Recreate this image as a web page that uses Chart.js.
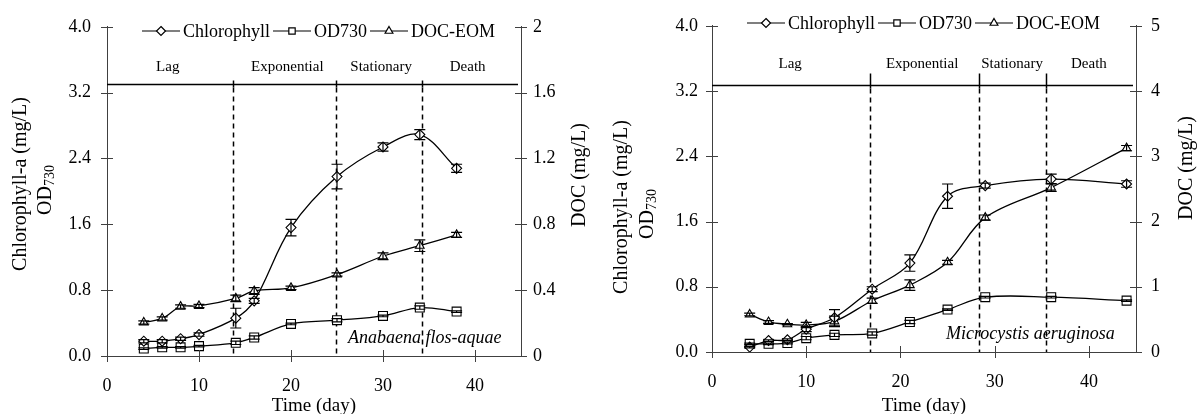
<!DOCTYPE html>
<html>
<head>
<meta charset="utf-8">
<script src="https://cdn.jsdelivr.net/npm/chart.js@4.4.0/dist/chart.umd.min.js"></script>
<style>
  html, body { margin: 0; padding: 0; background: #fff; }
  #wrap { position: relative; width: 1197px; height: 414px; overflow: hidden; }
  canvas { position: absolute; top: 0; }
  #chartAna { left: 0; }
  #chartMic { left: 600px; }
</style>
</head>
<body>
<div id="wrap">
  <canvas id="chartAna" width="600" height="414"></canvas>
  <canvas id="chartMic" width="597" height="414"></canvas>
</div>
<script>
// ---------- shared ----------
const seriesNames = ['Chlorophyll', 'OD730', 'DOC-EOM'];
const phaseNames = ['Lag', 'Exponential', 'Stationary', 'Death'];
const xTicks = [0, 10, 20, 30, 40];
const yTicks = [0, 0.8, 1.6, 2.4, 3.2, 4.0];
const yTickLabels = ['0.0', '0.8', '1.6', '2.4', '3.2', '4.0'];

// ---------- Anabaena flos-aquae (left) ----------
const anaDays = [4, 6, 8, 10, 14, 16, 20, 25, 30, 34, 38];
const anaChl = [0.18, 0.18, 0.21, 0.26, 0.46, 0.67, 1.56, 2.18, 2.54, 2.69, 2.28];
const anaChlErr = [0.02, 0.02, 0.02, 0.02, 0.12, 0.03, 0.10, 0.15, 0.05, 0.06, 0.05];
const anaOD = [0.09, 0.105, 0.105, 0.12, 0.16, 0.225, 0.39, 0.435, 0.487, 0.588, 0.54];
const anaODErr = [0.01, 0.01, 0.01, 0.01, 0.02, 0.02, 0.01, 0.02, 0.01, 0.02, 0.01];
const anaDOC = [0.204, 0.228, 0.30, 0.304, 0.35, 0.395, 0.414, 0.495, 0.606, 0.67, 0.736];
const anaDOCErr = [0.01, 0.01, 0.01, 0.01, 0.02, 0.02, 0.01, 0.01, 0.02, 0.035, 0.015];
const anaDocTicks = [0, 0.4, 0.8, 1.2, 1.6, 2];
const anaDocTickLabels = ['0', '0.4', '0.8', '1.2', '1.6', '2'];
const anaPhaseDays = [13.7, 24.9, 34.2];

// ---------- Microcystis aeruginosa (right) ----------
const micDays = [4, 6, 8, 10, 13, 17, 21, 25, 29, 36, 44];
const micChl = [0.06, 0.14, 0.15, 0.28, 0.42, 0.77, 1.09, 1.91, 2.04, 2.12, 2.06];
const micChlErr = [0.01, 0.01, 0.01, 0.03, 0.10, 0.03, 0.10, 0.15, 0.03, 0.06, 0.04];
const micOD = [0.10, 0.10, 0.11, 0.17, 0.21, 0.228, 0.368, 0.52, 0.672, 0.672, 0.63];
const micODErr = [0.01, 0.01, 0.01, 0.02, 0.02, 0.02, 0.02, 0.01, 0.01, 0.01, 0.01];
const micDOC = [0.576, 0.46, 0.425, 0.415, 0.47, 0.786, 1.025, 1.375, 2.06, 2.52, 3.125];
const micDOCErr = [0.02, 0.02, 0.01, 0.04, 0.08, 0.04, 0.08, 0.03, 0.04, 0.06, 0.04];
const micDocTicks = [0, 1, 2, 3, 4, 5];
const micDocTickLabels = ['0', '1', '2', '3', '4', '5'];
const micPhaseDays = [16.8, 28.3, 35.5];

const SERIF = "'Liberation Serif', 'Times New Roman', serif";
const AXIS_COLOR = '#404040';

function pts(days, vals) {
  return days.map((d, i) => ({ x: d, y: vals[i] }));
}

function drawMarker(ctx, style, x, y, r) {
  ctx.beginPath();
  if (style === 'rectRot') {
    ctx.moveTo(x, y - r); ctx.lineTo(x + r, y); ctx.lineTo(x, y + r); ctx.lineTo(x - r, y);
  } else if (style === 'rect') {
    const s = r * Math.SQRT1_2;
    ctx.rect(x - s, y - s, 2 * s, 2 * s);
  } else {
    const h = r * 1.5;
    ctx.moveTo(x, y - r); ctx.lineTo(x + h / Math.sqrt(3), y + r / 2); ctx.lineTo(x - h / Math.sqrt(3), y + r / 2);
  }
  ctx.closePath();
  ctx.fillStyle = '#fff';
  ctx.fill();
  ctx.stroke();
}

// error bars + phase lines + legend + labels
const decor = {
  id: 'decor',
  beforeDatasetsDraw(chart, args, o) {
    const { ctx, chartArea: a, scales: { x, y } } = chart;
    const lineY = Math.round(y.getPixelForValue(o.phaseLevel)) + 0.5;
    ctx.save();
    ctx.strokeStyle = '#000';
    ctx.lineWidth = 1.5;
    ctx.beginPath();
    ctx.moveTo(a.left, lineY);
    ctx.lineTo(a.right - 3, lineY);
    ctx.stroke();
    o.phaseDays.forEach(d => {
      const px = Math.round(x.getPixelForValue(d)) + 0.5;
      ctx.setLineDash([]);
      ctx.beginPath();
      ctx.moveTo(px, lineY - o.solidAbove);
      ctx.lineTo(px, lineY + 3);
      ctx.stroke();
      ctx.setLineDash([5, 4]);
      ctx.beginPath();
      ctx.moveTo(px, lineY + 3);
      ctx.lineTo(px, a.bottom);
      ctx.stroke();
    });
    ctx.restore();
  },
  afterDatasetsDraw(chart) {
    const { ctx } = chart;
    ctx.save();
    ctx.strokeStyle = '#000';
    ctx.lineWidth = 1.2;
    chart.data.datasets.forEach((ds, di) => {
      const meta = chart.getDatasetMeta(di);
      const sc = chart.scales[ds.yAxisID];
      meta.data.forEach((pt, i) => {
        const e = ds.errors[i];
        if (!e) return;
        const v = ds.data[i].y;
        const y0 = sc.getPixelForValue(v - e);
        const y1 = sc.getPixelForValue(v + e);
        ctx.beginPath();
        ctx.moveTo(pt.x, y0); ctx.lineTo(pt.x, y1);
        ctx.moveTo(pt.x - 5.5, y0); ctx.lineTo(pt.x + 5.5, y0);
        ctx.moveTo(pt.x - 5.5, y1); ctx.lineTo(pt.x + 5.5, y1);
        ctx.stroke();
      });
    });
    ctx.restore();
  },
  afterDraw(chart, args, o) {
    const { ctx, chartArea: a, scales: { x, y, y1 } } = chart;
    ctx.save();
    // crossing tick marks
    ctx.strokeStyle = AXIS_COLOR;
    ctx.lineWidth = 1;
    ctx.beginPath();
    y.ticks.forEach(t => {
      const py = Math.round(y.getPixelForValue(t.value)) + 0.5;
      ctx.moveTo(a.left - 6, py); ctx.lineTo(a.left + 6, py);
    });
    y1.ticks.forEach(t => {
      const py = Math.round(y1.getPixelForValue(t.value)) + 0.5;
      ctx.moveTo(a.right - 6, py); ctx.lineTo(a.right + 6, py);
    });
    x.ticks.forEach(t => {
      const px = Math.round(x.getPixelForValue(t.value)) + 0.5;
      ctx.moveTo(px, a.bottom - 6); ctx.lineTo(px, a.bottom + 6);
    });
    ctx.stroke();

    // phase labels
    ctx.fillStyle = '#000';
    ctx.font = '15px ' + SERIF;
    ctx.textAlign = 'center';
    ctx.textBaseline = 'alphabetic';
    phaseNames.forEach((n, i) => {
      ctx.fillText(n, x.getPixelForValue(o.phaseLabelDays[i]), o.phaseLabelY);
    });

    // species name
    ctx.font = 'italic 18px ' + SERIF;
    ctx.textAlign = 'left';
    ctx.textBaseline = 'middle';
    ctx.fillText(o.species, o.speciesX, o.speciesY);

    // legend: line - marker - line  text
    ctx.font = '18px ' + SERIF;
    ctx.strokeStyle = '#000';
    ctx.lineWidth = 1.2;
    let lx = o.legendX;
    const ly = o.legendY;
    chart.data.datasets.forEach(ds => {
      ctx.beginPath();
      ctx.moveTo(lx, ly); ctx.lineTo(lx + 38, ly);
      ctx.stroke();
      drawMarker(ctx, ds.pointStyle, lx + 19, ly, 4.5);
      ctx.fillStyle = '#000';
      ctx.textAlign = 'left';
      ctx.fillText(ds.label, lx + 41, ly + 1);
      lx += 41 + ctx.measureText(ds.label).width + 3;
    });

    // left y title (two lines, OD with subscript)
    ctx.fillStyle = '#000';
    ctx.save();
    ctx.translate(o.yTitleX, o.yTitleY);
    ctx.rotate(-Math.PI / 2);
    ctx.font = '20px ' + SERIF;
    ctx.textAlign = 'center';
    ctx.textBaseline = 'middle';
    ctx.fillText('Chlorophyll-a (mg/L)', 0, 0);
    ctx.restore();

    ctx.save();
    ctx.translate(o.odTitleX, o.odTitleY);
    ctx.rotate(-Math.PI / 2);
    ctx.textBaseline = 'middle';
    ctx.textAlign = 'left';
    ctx.font = '20px ' + SERIF;
    const wOD = ctx.measureText('OD').width;
    ctx.font = '14px ' + SERIF;
    const wSub = ctx.measureText('730').width;
    const sx = -(wOD + wSub) / 2;
    ctx.font = '20px ' + SERIF;
    ctx.fillText('OD', sx, 0);
    ctx.font = '14px ' + SERIF;
    ctx.fillText('730', sx + wOD, 4);
    ctx.restore();

    // right y title
    ctx.save();
    ctx.translate(o.docTitleX, o.docTitleY);
    ctx.rotate(-Math.PI / 2);
    ctx.font = '20px ' + SERIF;
    ctx.textAlign = 'center';
    ctx.textBaseline = 'middle';
    ctx.fillText('DOC (mg/L)', 0, 0);
    ctx.restore();

    ctx.restore();
  }
};

function makeChart(id, cfg) {
  const lineDs = (label, data, errors, style, axis) => ({
    label,
    data,
    errors,
    yAxisID: axis,
    borderColor: '#000',
    borderWidth: 1.3,
    tension: 0.35,
    fill: false,
    pointStyle: style,
    pointRadius: style === 'rect' ? 6.3 : 5,
    pointBackgroundColor: '#fff',
    pointBorderColor: '#000',
    pointBorderWidth: 1.1
  });

  return new Chart(document.getElementById(id), {
    type: 'line',
    data: {
      datasets: [
        lineDs(seriesNames[0], pts(cfg.days, cfg.chl), cfg.chlErr, 'rectRot', 'y'),
        lineDs(seriesNames[1], pts(cfg.days, cfg.od), cfg.odErr, 'rect', 'y'),
        lineDs(seriesNames[2], pts(cfg.days, cfg.doc), cfg.docErr, 'triangle', 'y1')
      ]
    },
    options: {
      responsive: false,
      animation: false,
      devicePixelRatio: 1,
      layout: { padding: { top: cfg.top, left: 0, right: 0, bottom: 0 } },
      scales: {
        x: {
          type: 'linear',
          min: 0,
          max: 45,
          afterBuildTicks: s => { s.ticks = xTicks.map(v => ({ value: v })); },
          afterFit: s => { s.height = cfg.xHeight; },
          grid: { display: false, drawTicks: false },
          border: { display: true, color: AXIS_COLOR, width: 1 },
          ticks: { color: '#000', padding: 19, font: { family: SERIF, size: 18 }, maxRotation: 0 },
          title: { display: true, text: 'Time (day)', color: '#000', font: { family: SERIF, size: 19 },
                   padding: { top: 0, bottom: -3 } }
        },
        y: {
          position: 'left',
          min: 0,
          max: 4,
          afterBuildTicks: s => { s.ticks = yTicks.map(v => ({ value: v })); },
          afterFit: s => { s.width = cfg.yWidth; },
          grid: { display: false, drawTicks: false },
          border: { display: true, color: AXIS_COLOR, width: 1 },
          ticks: { color: '#000', padding: cfg.yPad, font: { family: SERIF, size: 18 },
                   callback: (v, i) => yTickLabels[i] }
        },
        y1: {
          position: 'right',
          min: 0,
          max: cfg.docTicks[cfg.docTicks.length - 1],
          afterBuildTicks: s => { s.ticks = cfg.docTicks.map(v => ({ value: v })); },
          afterFit: s => { s.width = cfg.y1Width; },
          grid: { display: false, drawTicks: false },
          border: { display: true, color: AXIS_COLOR, width: 1 },
          ticks: { color: '#000', padding: cfg.y1Pad, font: { family: SERIF, size: 18 },
                   callback: (v, i) => cfg.docTickLabels[i] }
        }
      },
      plugins: {
        legend: { display: false },
        tooltip: { enabled: false },
        decor: cfg.decor
      }
    },
    plugins: [decor]
  });
}

makeChart('chartAna', {
  days: anaDays, chl: anaChl, chlErr: anaChlErr, od: anaOD, odErr: anaODErr,
  doc: anaDOC, docErr: anaDOCErr, docTicks: anaDocTicks, docTickLabels: anaDocTickLabels,
  top: 24, xHeight: 58, yWidth: 107, y1Width: 79, yPad: 16, y1Pad: 12,
  decor: {
    phaseLevel: 3.30, phaseDays: anaPhaseDays, solidAbove: 4,
    phaseLabelDays: [6.6, 19.6, 29.8, 39.2], phaseLabelY: 71,
    species: 'Anabaena flos-aquae', speciesX: 348, speciesY: 338,
    legendX: 142, legendY: 31,
    yTitleX: 21, yTitleY: 184, odTitleX: 46, odTitleY: 190,
    docTitleX: 580, docTitleY: 175
  }
});

makeChart('chartMic', {
  days: micDays, chl: micChl, chlErr: micChlErr, od: micOD, odErr: micODErr,
  doc: micDOC, docErr: micDOCErr, docTicks: micDocTicks, docTickLabels: micDocTickLabels,
  top: 18, xHeight: 62, yWidth: 112, y1Width: 61, yPad: 14, y1Pad: 15,
  decor: {
    phaseLevel: 3.28, phaseDays: micPhaseDays, solidAbove: 12,
    phaseLabelDays: [8.3, 22.3, 31.85, 40.0], phaseLabelY: 68,
    species: 'Microcystis aeruginosa', speciesX: 346, speciesY: 334,
    legendX: 147, legendY: 23,
    yTitleX: 22, yTitleY: 207, odTitleX: 48, odTitleY: 214,
    docTitleX: 587, docTitleY: 168
  }
});
</script>
</body>
</html>
